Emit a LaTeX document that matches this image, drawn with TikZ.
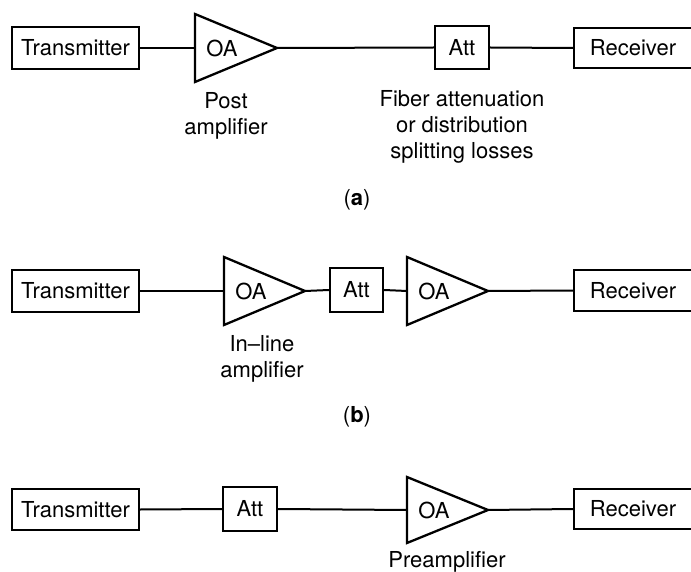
\documentclass[tikz,border=0pt]{standalone}
\usepackage{fontspec}
\setmainfont{TeX Gyre Heros}
\begin{document}
\begin{tikzpicture}[x=1pt,y=-1pt,
  every node/.style={font=\fontsize{22}{26}\selectfont, inner sep=0pt},
  blk/.style={draw, line width=2.4pt, minimum height=42pt},
  wire/.style={line width=2pt},
  amp/.style={line width=2.3pt, line join=miter},
  lbl/.style={align=center}]
\useasboundingbox (0,0) rectangle (691,572);
\clip (0,0) rectangle (691,572);

% ---------- (a) ----------
\node[blk, minimum width=127pt] (ta) at (75.5,48) {Transmitter};
\coordinate (a1in) at (195,48);
\coordinate (a1out) at (277,48);
\draw[amp] (195,14) -- (277,48) -- (195,82) -- cycle;
\node (a1) at (222,48) {OA};
\node[blk, minimum width=54pt, minimum height=43pt] (atta) at (462,47.5) {Att};
\node[blk, minimum width=118pt, minimum height=40pt] (ra) at (633,48) {Receiver};
\draw[wire] (ta.east) -- (a1in);
\draw[wire] (a1out) -- (atta.west);
\draw[wire] (atta.east) -- (ra.west);
\node[lbl] (la) at (226,116) {Post\\amplifier};
\node[lbl] (lf) at (462,127) {Fiber attenuation\\or distribution\\splitting losses};
\node (capa) at (357,200) {(\textbf{a})};

% ---------- (b) ----------
\node[blk, minimum width=127pt] (tb) at (75.5,291) {Transmitter};
\coordinate (b1in) at (224,291);
\coordinate (b1out) at (305,291);
\draw[amp] (224,257) -- (305,291) -- (224,325) -- cycle;
\node (b1) at (251,291) {OA};
\node[blk, minimum width=53pt, minimum height=44pt] (attb) at (356.5,290) {Att};
\coordinate (b2in) at (407,291);
\coordinate (b2out) at (488,291);
\draw[amp] (407,257) -- (488,291) -- (407,325) -- cycle;
\node (b2) at (434,291) {OA};
\node[blk, minimum width=118pt, minimum height=41pt] (rb) at (633,290.5) {Receiver};
\draw[wire] (tb.east) -- (b1in);
\draw[wire] (b1out) -- (attb.west);
\draw[wire] (attb.east) -- (b2in);
\draw[wire] (b2out) -- (rb.west);
\node[lbl] (lb) at (262,359) {In--line\\amplifier};
\node (capb) at (357,417) {(\textbf{b})};

% ---------- (c) ----------
\node[blk, minimum width=127pt, minimum height=41pt] (tc) at (75.5,509.5) {Transmitter};
\node[blk, minimum width=54pt, minimum height=44pt] (attc) at (250,509) {Att};
\coordinate (c1in) at (407,510);
\coordinate (c1out) at (488,510);
\draw[amp] (407,477) -- (488,510) -- (407,543) -- cycle;
\node (c1) at (434,510) {OA};
\node[blk, minimum width=118pt, minimum height=40pt] (rc) at (633,509) {Receiver};
\draw[wire] (tc.east) -- (attc.west);
\draw[wire] (attc.east) -- (c1in);
\draw[wire] (c1out) -- (rc.west);
\node[lbl] (lc) at (447,562) {Preamplifier};
\end{tikzpicture}
\end{document}
